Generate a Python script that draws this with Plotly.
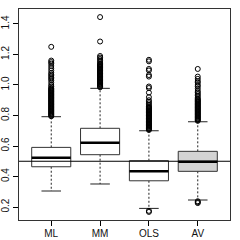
import plotly.graph_objects as go

categories = ["ML", "MM", "OLS", "AV"]
q1 = [0.464, 0.543, 0.372, 0.434]
median = [0.523, 0.622, 0.434, 0.497]
q3 = [0.591, 0.716, 0.504, 0.565]
lower_whisker = [0.305, 0.351, 0.191, 0.246]
upper_whisker = [0.792, 0.978, 0.700, 0.759]
box_fill = ["white", "white", "white", "#d3d3d3"]

outliers_ML = [0.795, 0.80, 0.805, 0.81, 0.815, 0.82, 0.825, 0.83, 0.835, 0.84, 0.845,
               0.85, 0.855, 0.86, 0.865, 0.87, 0.875, 0.88, 0.885, 0.89, 0.895, 0.90,
               0.905, 0.91, 0.915, 0.92, 0.925, 0.93, 0.935, 0.94, 0.945, 0.95, 0.955,
               0.96, 0.965, 0.97, 0.975, 0.98, 0.99, 1.00, 1.015, 1.03, 1.04, 1.05,
               1.06, 1.07, 1.08, 1.095, 1.11, 1.125, 1.14, 1.15, 1.16, 1.25]
outliers_MM = [0.985, 0.99, 0.995, 1.00, 1.005, 1.01, 1.015, 1.02, 1.025, 1.03, 1.035,
               1.04, 1.045, 1.05, 1.055, 1.06, 1.065, 1.07, 1.075, 1.08, 1.085, 1.09,
               1.095, 1.10, 1.105, 1.11, 1.115, 1.12, 1.125, 1.13, 1.135, 1.14, 1.15,
               1.16, 1.17, 1.18, 1.19, 1.285, 1.445]
outliers_OLS = [0.168, 0.175, 0.705, 0.71, 0.715, 0.72, 0.725, 0.73, 0.735, 0.74, 0.745,
                0.75, 0.755, 0.76, 0.765, 0.77, 0.775, 0.78, 0.785, 0.79, 0.795, 0.80,
                0.805, 0.81, 0.815, 0.82, 0.825, 0.83, 0.835, 0.84, 0.845, 0.85, 0.855,
                0.86, 0.87, 0.88, 0.89, 0.90, 0.92, 0.95, 0.98, 0.99, 1.055, 1.065,
                1.095, 1.105, 1.155, 1.165]
outliers_AV = [0.226, 0.232, 0.238, 0.765, 0.77, 0.775, 0.78, 0.785, 0.79, 0.795, 0.80,
               0.805, 0.81, 0.815, 0.82, 0.825, 0.83, 0.835, 0.84, 0.845, 0.85, 0.855,
               0.86, 0.865, 0.87, 0.875, 0.88, 0.885, 0.89, 0.895, 0.90, 0.905, 0.91,
               0.92, 0.93, 0.94, 0.95, 0.96, 0.975, 0.99, 1.00, 1.015, 1.025, 1.04,
               1.055, 1.105]
outliers = [outliers_ML, outliers_MM, outliers_OLS, outliers_AV]

reference_line = 0.5
y_ticks = [0.2, 0.4, 0.6, 0.8, 1.0, 1.2, 1.4]

fig = go.Figure()
half_box = 0.4
half_cap = 0.2
for i, cat in enumerate(categories):
    c = i + 1
    # whiskers (dashed)
    fig.add_trace(go.Scatter(x=[c, c, None, c, c],
                             y=[q3[i], upper_whisker[i], None, q1[i], lower_whisker[i]],
                             mode="lines", line=dict(color="#222222", width=1, dash="2px,2px"),
                             hoverinfo="skip", showlegend=False))
    # caps
    fig.add_trace(go.Scatter(x=[c - half_cap, c + half_cap, None, c - half_cap, c + half_cap],
                             y=[upper_whisker[i], upper_whisker[i], None, lower_whisker[i], lower_whisker[i]],
                             mode="lines", line=dict(color="#222222", width=1),
                             hoverinfo="skip", showlegend=False))
    # box
    fig.add_trace(go.Scatter(x=[c - half_box, c + half_box, c + half_box, c - half_box, c - half_box],
                             y=[q1[i], q1[i], q3[i], q3[i], q1[i]],
                             mode="lines", fill="toself", fillcolor=box_fill[i],
                             line=dict(color="#333333", width=1),
                             hoverinfo="skip", showlegend=False))
    # median
    fig.add_trace(go.Scatter(x=[c - half_box, c + half_box], y=[median[i], median[i]],
                             mode="lines", line=dict(color="black", width=2.5),
                             hoverinfo="skip", showlegend=False))
    # outliers
    fig.add_trace(go.Scatter(x=[c] * len(outliers[i]), y=outliers[i], mode="markers",
                             marker=dict(symbol="circle-open", size=5, color="black",
                                         line=dict(width=1, color="black")),
                             showlegend=False))

fig.add_hline(y=reference_line, line=dict(color="black", width=1), layer="above")

fig.update_layout(
    width=240, height=240,
    margin=dict(l=19, r=10, t=9, b=20),
    paper_bgcolor="white", plot_bgcolor="white",
    font=dict(family="Liberation Sans, Arial, sans-serif", size=10, color="#111111"),
    showlegend=False,
)
fig.update_xaxes(range=[0.34, 4.66], tickmode="array", tickvals=[1, 2, 3, 4],
                 ticktext=categories, ticks="outside", ticklen=5, tickcolor="black",
                 showgrid=False, zeroline=False, showline=True, linecolor="#333333",
                 linewidth=1, mirror=True, tickfont=dict(size=10), automargin=False,
                 ticklabelstandoff=-1)
fig.update_yaxes(range=[0.115, 1.498], tickmode="array", tickvals=y_ticks,
                 ticktext=[f"{v:.1f}" for v in y_ticks], tickangle=-90,
                 ticks="outside", ticklen=5, tickcolor="black",
                 showgrid=False, zeroline=False, showline=True, linecolor="#333333",
                 linewidth=1, mirror=True, tickfont=dict(size=10), automargin=False,
                 ticklabelstandoff=0)

fig.write_html("out.html", config={"displayModeBar": False},
               post_script="document.body.style.margin='0';document.body.style.overflow='hidden';")
